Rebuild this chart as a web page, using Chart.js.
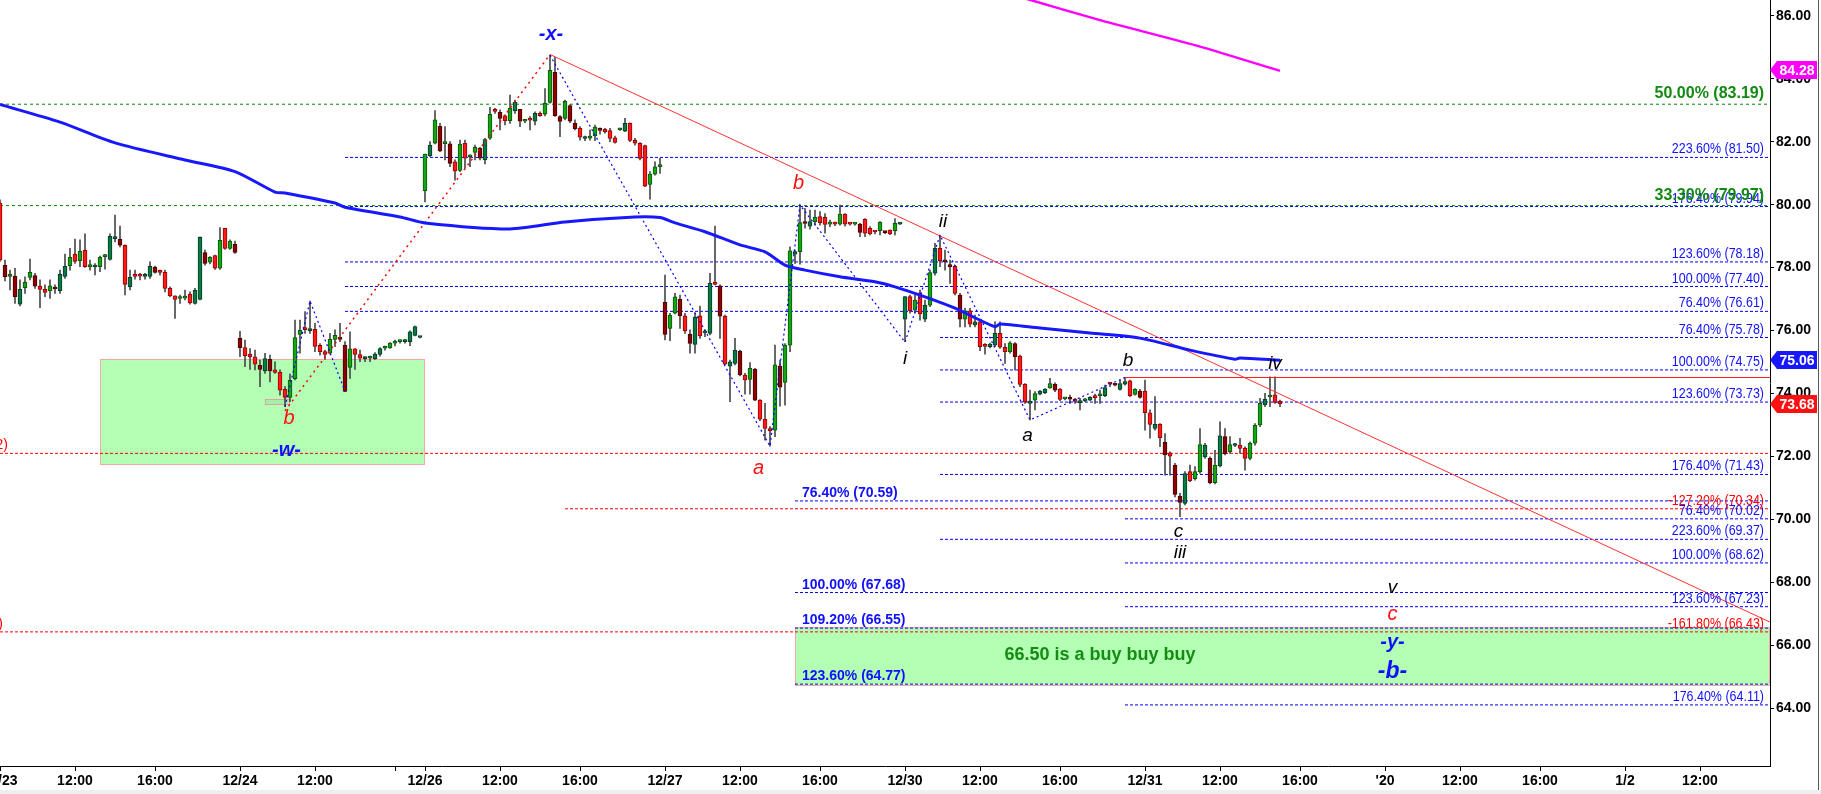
<!DOCTYPE html>
<html>
<head>
<meta charset="utf-8">
<script src="https://cdn.jsdelivr.net/npm/chart.js@4.4.1/dist/chart.umd.min.js"></script>
<style>
html, body { margin: 0; padding: 0; background: #fff; overflow: hidden; }
canvas { display: block; }
</style>
</head>
<body>
<canvas id="myChart" width="1821" height="794"></canvas>
<script>
// 15 minute bars, index 0 = 12/23 first bar
var opens = [
  // 12/23
  80.05, 78.07, 77.72, 77.73, 76.84, 77.36, 77.69, 77.75, 77.41, 77.31, 77.26, 77.38, 77.27, 77.72, 78.06, 78.42,
  78.22, 78.55, 78.03, 78.02, 78.03, 78.35, 78.26, 78.92, 78.90, 78.71, 77.39, 77.74, 77.75, 77.72, 77.72, 78.02,
  77.86, 77.85, 77.34, 77.10, 77.02, 77.03, 77.15, 76.86, 76.99, 78.48, 78.17, 78.38, 77.98, 79.25, 78.61, 78.74,
  // 12/24
  75.75, 75.46, 75.25, 75.17, 74.90, 74.72, 75.09, 74.75, 74.67, 74.13, 73.88, 74.47, 75.88, 76.05, 76.00, 76.04,
  75.53, 75.33, 75.28, 75.72, 75.77, 75.53, 74.83, 75.42, 75.24, 75.11, 75.12, 75.11, 75.24, 75.44, 75.45, 75.60,
  75.65, 75.65, 75.65, 75.85, 75.78,
  // 12/26
  80.44, 81.55, 81.95, 82.49, 81.94, 81.93, 81.36, 81.09, 81.95, 81.52, 81.66, 81.79, 81.42, 82.11, 82.98, 82.93,
  82.82, 82.67, 82.98, 83.03, 82.65, 82.75, 82.65, 82.90, 82.87, 83.25, 84.20, 82.80, 82.74, 83.15, 82.58, 82.42,
  82.10, 82.11, 82.18, 82.37, 82.39, 82.35, 82.12, 82.38, 82.33, 82.58, 82.04, 81.95, 81.88, 80.64, 80.97, 81.21,
  // 12/27
  76.90, 76.07, 76.55, 76.99, 76.47, 75.88, 75.56, 76.47, 75.93, 75.91, 77.54, 77.42, 76.46, 74.87, 74.96, 75.34,
  74.59, 74.45, 74.77, 73.79, 73.19, 72.89, 72.84, 74.87, 74.35, 75.54, 78.43, 78.51, 79.42, 79.32, 79.46, 79.62,
  79.60, 79.38, 79.39, 79.38, 79.70, 79.39, 79.38, 79.38, 79.53, 79.25, 79.14, 79.17, 79.12, 79.19, 79.17, 79.38,
  // 12/30
  76.36, 77.08, 76.65, 77.20, 76.36, 76.81, 77.82, 78.61, 78.19, 78.10, 78.04, 77.13, 76.36, 76.63, 76.18, 76.28,
  75.51, 75.49, 75.54, 75.91, 75.47, 75.33, 75.59, 75.19, 74.29, 73.69, 73.79, 73.98, 74.03, 74.18, 74.29, 74.14,
  73.83, 73.83, 73.82, 73.71, 73.77, 73.79, 73.93, 73.93, 73.93, 74.31, 74.28, 74.13, 74.30, 74.40, 73.97, 74.08,
  // 12/31
  74.08, 73.39, 72.89, 73.02, 72.45, 72.12, 71.72, 70.74, 70.51, 71.52, 71.30, 71.52, 71.99, 71.94, 71.17, 71.70,
  72.63, 72.15, 72.35, 72.36, 72.26, 71.94, 72.42, 73.00, 73.64, 73.89, 73.96, 73.75
];
var highs = [
  80.15, 78.24, 77.92, 77.98, 77.61, 77.71, 78.27, 77.82, 77.61, 77.45, 77.61, 77.45, 77.92, 78.43, 78.61, 78.91,
  78.88, 79.07, 78.24, 78.13, 78.37, 78.42, 79.07, 79.67, 79.32, 78.72, 77.92, 77.92, 77.82, 77.82, 78.18, 78.05,
  77.92, 77.92, 77.39, 77.10, 77.13, 77.29, 77.23, 77.34, 78.98, 78.56, 78.35, 78.40, 79.27, 79.25, 78.88, 78.84,
  75.98, 75.70, 75.43, 75.38, 75.06, 75.28, 75.22, 75.01, 74.75, 74.22, 74.62, 76.33, 76.33, 76.60, 76.94, 76.23,
  75.59, 75.38, 75.91, 76.02, 76.23, 75.65, 75.96, 75.43, 75.38, 75.17, 75.19, 75.30, 75.46, 75.51, 75.62, 75.70,
  75.70, 75.72, 75.99, 76.14, 75.81,
  81.61, 82.00, 82.99, 82.58, 82.48, 82.00, 81.42, 82.05, 82.05, 81.58, 81.89, 81.82, 82.11, 83.09, 83.06, 83.01,
  82.85, 83.48, 83.32, 83.03, 82.70, 82.80, 82.95, 82.95, 83.69, 84.75, 84.68, 82.83, 83.32, 83.18, 82.69, 82.48,
  82.18, 82.37, 82.53, 82.44, 82.42, 82.42, 82.18, 82.42, 82.74, 82.60, 82.11, 81.97, 81.89, 81.05, 81.36, 81.47,
  77.76, 76.55, 77.18, 77.13, 76.55, 76.02, 76.55, 76.78, 76.02, 77.82, 79.32, 77.45, 76.49, 75.06, 75.75, 75.38,
  74.64, 74.98, 74.80, 73.81, 73.69, 72.95, 75.54, 75.06, 75.59, 78.66, 78.56, 79.99, 79.88, 79.83, 79.83, 79.78,
  79.72, 79.51, 79.45, 79.99, 79.72, 79.42, 79.42, 79.41, 79.56, 79.30, 79.17, 79.46, 79.15, 79.20, 79.56, 79.41,
  77.08, 77.13, 77.18, 77.29, 76.97, 77.92, 78.77, 79.03, 78.56, 78.24, 78.08, 77.18, 76.71, 76.71, 76.49, 76.33,
  75.59, 75.60, 76.28, 76.28, 75.59, 75.65, 75.62, 75.22, 74.32, 74.11, 74.06, 74.10, 74.16, 74.48, 74.34, 74.16,
  73.88, 73.95, 73.85, 73.85, 73.85, 73.90, 73.98, 74.11, 74.27, 74.34, 74.30, 74.43, 74.51, 74.43, 74.16, 74.13,
  74.43, 73.48, 73.90, 73.05, 72.73, 72.15, 71.78, 70.83, 71.52, 71.73, 71.68, 72.89, 72.42, 71.99, 72.20, 73.10,
  72.89, 72.63, 72.42, 72.58, 72.31, 72.47, 73.05, 73.85, 74.01, 74.53, 74.53, 73.79
];
var lows = [
  78.20, 77.58, 77.29, 76.86, 76.78, 77.18, 77.61, 77.34, 76.73, 77.08, 77.02, 77.18, 77.18, 77.66, 77.92, 78.13,
  78.03, 78.01, 77.92, 77.77, 77.87, 77.95, 78.24, 78.82, 78.66, 77.13, 77.29, 77.63, 77.61, 77.63, 77.66, 77.82,
  77.76, 77.23, 77.08, 76.39, 76.86, 76.97, 76.84, 76.84, 76.97, 78.08, 78.12, 77.94, 77.94, 78.58, 78.58, 78.45,
  75.17, 74.85, 74.77, 74.75, 74.22, 74.64, 74.37, 74.64, 73.95, 73.58, 73.74, 74.43, 75.28, 75.91, 75.91, 75.33,
  75.22, 75.08, 75.25, 75.49, 75.65, 74.06, 74.48, 74.77, 75.01, 75.01, 75.01, 75.08, 75.19, 75.38, 75.43, 75.51,
  75.60, 75.60, 75.52, 75.83, 75.77,
  80.09, 81.52, 81.93, 81.68, 81.42, 81.21, 80.78, 81.05, 81.15, 81.21, 81.42, 81.42, 81.29, 82.07, 82.90, 82.37,
  82.53, 82.58, 82.90, 82.48, 82.60, 82.37, 82.53, 82.80, 82.82, 83.22, 82.80, 82.16, 82.69, 82.60, 82.37, 82.05,
  82.03, 82.05, 82.03, 82.24, 82.27, 82.00, 81.95, 82.36, 82.32, 82.00, 81.89, 81.42, 80.57, 80.17, 80.94, 80.99,
  75.70, 75.68, 76.53, 76.07, 75.91, 75.28, 75.28, 75.75, 75.81, 75.86, 77.45, 75.75, 74.91, 73.74, 74.91, 74.56,
  73.98, 73.98, 73.77, 73.14, 72.52, 72.33, 72.63, 73.60, 73.63, 75.33, 78.13, 78.11, 79.25, 79.22, 79.35, 79.35,
  79.09, 79.30, 79.33, 79.35, 79.32, 79.35, 79.35, 78.98, 78.98, 79.04, 79.07, 79.04, 79.08, 79.05, 79.04, 79.37,
  75.65, 76.55, 76.55, 76.33, 76.28, 76.76, 77.76, 78.03, 77.92, 77.50, 77.13, 76.12, 76.12, 76.12, 76.12, 75.36,
  75.25, 75.45, 75.49, 75.43, 74.96, 75.28, 74.75, 74.22, 73.69, 73.16, 73.48, 73.96, 74.00, 74.16, 74.06, 73.77,
  73.80, 73.69, 73.69, 73.48, 73.74, 73.77, 73.69, 73.69, 73.90, 74.22, 74.24, 74.11, 74.27, 73.90, 73.95, 73.85,
  72.84, 72.58, 72.84, 72.31, 71.41, 71.41, 70.72, 70.09, 70.46, 71.20, 71.25, 71.46, 71.94, 71.13, 71.13, 71.67,
  72.05, 72.10, 72.31, 72.10, 71.57, 71.89, 72.36, 72.95, 73.58, 73.58, 73.69, 73.58
];
var closes = [
  78.24, 77.71, 77.74, 77.08, 77.31, 77.53, 77.85, 77.41, 77.31, 77.21, 77.42, 77.32, 77.79, 78.04, 78.33, 78.20,
  78.52, 78.03, 78.04, 78.03, 78.33, 78.36, 78.99, 78.93, 78.71, 77.47, 77.69, 77.72, 77.73, 77.73, 78.04, 77.85,
  77.85, 77.34, 77.10, 76.99, 77.03, 77.04, 76.88, 77.28, 78.96, 78.13, 78.33, 77.98, 78.87, 78.61, 78.84, 78.48,
  75.46, 75.20, 75.17, 74.93, 74.77, 75.11, 74.72, 74.67, 74.11, 73.88, 74.42, 75.78, 76.01, 76.03, 76.02, 75.50,
  75.33, 75.24, 75.72, 75.85, 75.72, 74.07, 75.42, 75.24, 75.12, 75.12, 75.13, 75.25, 75.43, 75.45, 75.60, 75.61,
  75.66, 75.66, 75.96, 76.13, 75.79,
  81.61, 81.89, 82.69, 81.71, 81.95, 81.31, 81.06, 81.92, 81.48, 81.53, 81.82, 81.48, 82.07, 82.87, 82.96, 82.74,
  82.67, 83.06, 83.25, 82.65, 82.66, 82.68, 82.90, 82.83, 83.22, 84.27, 82.83, 82.64, 83.28, 82.65, 82.41, 82.14,
  82.11, 82.18, 82.46, 82.36, 82.32, 82.10, 81.98, 82.39, 82.58, 82.04, 81.95, 81.47, 80.59, 80.97, 81.20, 81.22,
  75.88, 76.49, 77.07, 76.47, 75.99, 75.59, 76.43, 75.83, 75.94, 77.50, 77.47, 76.46, 74.93, 75.01, 75.37, 74.59,
  74.43, 74.80, 73.79, 73.19, 72.89, 72.81, 74.91, 74.20, 75.54, 78.53, 78.51, 79.43, 79.40, 79.46, 79.60, 79.43,
  79.37, 79.39, 79.38, 79.70, 79.38, 79.38, 79.39, 79.12, 79.09, 79.07, 79.13, 79.44, 79.11, 79.07, 79.41, 79.39,
  77.08, 76.63, 76.97, 76.53, 76.81, 77.84, 78.61, 78.22, 78.18, 78.03, 77.18, 76.36, 76.63, 76.20, 76.28, 75.49,
  75.50, 75.57, 75.91, 75.47, 75.33, 75.61, 75.17, 74.29, 73.73, 73.76, 74.00, 74.08, 74.14, 74.32, 74.11, 73.81,
  73.84, 73.82, 73.75, 73.72, 73.82, 73.88, 73.87, 73.94, 74.19, 74.30, 74.27, 74.32, 74.38, 73.93, 74.13, 73.88,
  73.39, 73.02, 73.02, 72.60, 72.05, 72.01, 70.80, 70.54, 71.46, 71.23, 71.52, 72.38, 72.36, 71.17, 71.73, 72.66,
  72.08, 72.38, 72.36, 72.26, 71.94, 72.42, 72.99, 73.69, 73.82, 73.90, 73.72, 73.68
];

// moving average (blue) and the magenta average
var maBars   = [0, 12, 23, 37, 47, 55, 57, 67, 69, 80, 85, 102, 113, 127, 132, 135, 141, 148, 153, 157, 161, 168, 175, 179, 185, 191, 199, 200, 208, 218, 228, 238, 247, 248, 256];
var maValues = [83.18, 82.62, 81.96, 81.42, 81.05, 80.40, 80.37, 80.05, 79.92, 79.61, 79.42, 79.23, 79.45, 79.61, 79.59, 79.42, 79.14, 78.72, 78.50, 78.08, 77.92, 77.71, 77.55, 77.39, 77.07, 76.71, 76.12, 76.21, 76.08, 75.92, 75.76, 75.38, 75.09, 75.13, 75.06];
var magBars   = [205, 220, 240, 256];
var magValues = [86.55, 85.86, 85.02, 84.25];

// x axis
var tickBars   = [0, 15, 31, 48, 63, 79, 85, 100, 116, 133, 148, 164, 181, 196, 212, 229, 244, 260, 277, 292, 308, 325, 340];
var tickLabels = ['12/23', '12:00', '16:00', '12/24', '12:00', '', '12/26', '12:00', '16:00', '12/27', '12:00', '16:00',
                  '12/30', '12:00', '16:00', '12/31', '12:00', '16:00', "'20", '12:00', '16:00', '1/2', '12:00'];
var priceTicks = [64, 66, 68, 70, 72, 74, 76, 78, 80, 82, 84, 86];

// fibonacci levels, grouped by the bar they start from
var fibXRatios  = ['223.60%', '176.40%', '123.60%', '100.00%', '76.40%'];
var fibXPrices  = [81.50, 79.94, 78.18, 77.40, 76.61];
var fibXStart   = 69;
var fibIIRatios = ['76.40%', '100.00%', '123.60%', '176.40%', '223.60%'];
var fibIIPrices = [75.78, 74.75, 73.73, 71.43, 69.37];
var fibIIStart  = 188;
var fibBRatios  = ['76.40%', '100.00%', '123.60%', '176.40%'];
var fibBPrices  = [70.02, 68.62, 67.23, 64.11];
var fibBStart   = 225;
var fibARatios  = ['76.40%', '100.00%', '109.20%', '123.60%'];
var fibAPrices  = [70.59, 67.68, 66.55, 64.77];
var fibAStart   = 159;
var redRatios   = ['-127.20%', '-161.80%'];
var redPrices   = [70.34, 66.43];
var redStarts   = [113, 0];
var redEdgePrices = [72.10, 66.43];
var redEdgeTexts  = ['(72.12)', '(66.43)'];
var redEdgeBars   = [1.6, 0.6];
var greenRatios = ['50.00%', '33.30%'];
var greenPrices = [83.19, 79.97];

// trend lines
var trendBars   = [110, 354];
var trendPrices = [84.77, 66.74];
var bLineBars   = [224.7, 354];
var bLinePrice  = 74.51;
var xLegBars    = [57, 110];
var xLegPrices  = [73.45, 84.77];
var wPathBars   = [57, 62, 69];
var wPathPrices = [73.58, 76.94, 74.07];
var yPathBars   = [110, 154, 160, 181, 188, 206, 225];
var yPathPrices = [84.75, 72.33, 79.99, 75.63, 79.03, 73.16, 74.51];

// zones
var wZoneBars   = [20, 85];
var wZonePrices = [75.09, 71.74];
var lowBoxBars  = [53, 58];
var lowBoxPrices = [73.82, 73.66];
var buyZoneStart = 159;
var buyZonePrices = [66.58, 64.75];
var buyText = '66.50 is a buy buy buy';
var buyTextBar = 220, buyTextPrice = 65.69;

// wave labels
var blackText  = ['i', 'ii', 'a', 'b', 'iv', 'c', 'iii', 'v'];
var blackBars  = [181, 188.6, 205.5, 225.6, 255, 235.7, 236, 278.5];
var blackPrice = [75.12, 79.46, 72.65, 75.04, 74.96, 69.61, 68.94, 67.83];
var redText    = ['b', 'a', 'b', 'c'];
var redBars    = [57.8, 151.7, 159.7, 278.5];
var redPrice   = [73.21, 71.62, 80.68, 66.98];
var blueText   = ['-x-', '-w-', '-y-', '-b-'];
var blueBars   = [110.2, 57.3, 278.5, 278.5];
var bluePrice  = [85.40, 72.20, 66.10, 65.17];

// price tags on the axis
var tagValues = [84.28, 75.06, 73.68];
var tagColors = ['#ff00ff', '#1818ff', '#ff1010'];

var X_MAX = 354;
var Y_MIN = 62.17, Y_MAX = 86.5;

Chart.defaults.font.family = "'Liberation Sans', Arial, sans-serif";

// candle colours
var bodyFill = [], bodyEdge = [], wickData = [], bodyData = [];
for (var i = 0; i < opens.length; i++) {
  var up = closes[i] >= opens[i];
  var prev = i > 0 ? closes[i - 1] : opens[i];
  var strong = opens[i] >= prev;
  if (up) {
    bodyFill.push(strong ? '#12a612' : '#097a45');
    bodyEdge.push(strong ? '#0a560a' : '#053d22');
  } else {
    bodyFill.push(strong ? '#ff1a1a' : '#8e0000');
    bodyEdge.push(strong ? '#9a0000' : '#4a0000');
  }
  wickData.push({ x: i, y: [lows[i], highs[i]] });
  bodyData.push({ x: i, y: [opens[i], closes[i]] });
}

function pts(xs, ys) {
  return xs.map(function (x, k) { return { x: x, y: Array.isArray(ys) ? ys[k] : ys }; });
}
function levelLine(start, price, color, dash) {
  return {
    type: 'line', data: [{ x: start, y: price }, { x: X_MAX, y: price }],
    borderColor: color, borderWidth: 1, borderDash: dash, pointRadius: 0, order: 6
  };
}

var datasets = [];
greenPrices.forEach(function (p) { datasets.push(levelLine(0, p, '#008a00', [3, 3])); });
redEdgePrices.forEach(function (p) { datasets.push(levelLine(0, p, '#ff0000', [3, 2])); });
redPrices.forEach(function (p, k) { if (redStarts[k] > 0) datasets.push(levelLine(redStarts[k], p, '#ff0000', [3, 2])); });
fibXPrices.forEach(function (p) { datasets.push(levelLine(fibXStart, p, '#0000ff', [3, 2])); });
fibIIPrices.forEach(function (p) { datasets.push(levelLine(fibIIStart, p, '#0000ff', [3, 2])); });
fibBPrices.forEach(function (p) { datasets.push(levelLine(fibBStart, p, '#0000ff', [3, 2])); });
fibAPrices.forEach(function (p) { datasets.push(levelLine(fibAStart, p, '#0000ff', [3, 2])); });

datasets.push({ type: 'bar', data: wickData, backgroundColor: '#4a4a4a', borderWidth: 0,
  barThickness: 1, minBarLength: 1, grouped: false, order: 4 });
datasets.push({ type: 'bar', data: bodyData, backgroundColor: bodyFill, borderColor: bodyEdge,
  borderWidth: 1, borderSkipped: false, barThickness: 4, minBarLength: 2, grouped: false, order: 3 });

datasets.push({ type: 'line', data: pts(wPathBars, wPathPrices), borderColor: '#0000ff', borderWidth: 1.2,
  borderDash: [2, 3], pointRadius: 0, order: 2 });
datasets.push({ type: 'line', data: pts(yPathBars, yPathPrices), borderColor: '#0000ff', borderWidth: 1.2,
  borderDash: [2, 3], pointRadius: 0, order: 2 });
datasets.push({ type: 'line', data: pts(xLegBars, xLegPrices), borderColor: '#ff0000', borderWidth: 1.5,
  borderDash: [2, 4], pointRadius: 0, order: 2 });
datasets.push({ type: 'line', data: pts(trendBars, trendPrices), borderColor: '#ff3030', borderWidth: 1,
  pointRadius: 0, order: 2 });
datasets.push({ type: 'line', data: pts(bLineBars, bLinePrice), borderColor: '#ff2020', borderWidth: 1,
  pointRadius: 0, order: 2 });
datasets.push({ type: 'line', data: pts(maBars, maValues), borderColor: '#1818ff', borderWidth: 3,
  tension: 0.25, pointRadius: 0, order: 1 });
datasets.push({ type: 'line', data: pts(magBars, magValues), borderColor: '#ff00ff', borderWidth: 2.5,
  tension: 0.2, pointRadius: 0, order: 1 });

function fibLabel(r, p) { return r + ' (' + p.toFixed(2) + ')'; }

var drawings = {
  id: 'drawings',
  beforeDatasetsDraw: function (chart) {
    var ctx = chart.ctx, xs = chart.scales.x, ys = chart.scales.y, area = chart.chartArea;
    ctx.save();
    function zone(x0, x1, y0, y1, fill, edge) {
      var l = xs.getPixelForValue(x0), r = x1 === null ? area.right : xs.getPixelForValue(x1);
      var t = ys.getPixelForValue(y0), b = ys.getPixelForValue(y1);
      ctx.fillStyle = fill;
      ctx.fillRect(l, t, r - l, b - t);
      ctx.strokeStyle = edge;
      ctx.lineWidth = 1;
      ctx.strokeRect(Math.round(l) + 0.5, Math.round(t) + 0.5, Math.round(r - l) - 1, Math.round(b - t));
    }
    zone(wZoneBars[0], wZoneBars[1], wZonePrices[0], wZonePrices[1], '#b3ffb3', '#f3a8a8');
    zone(lowBoxBars[0], lowBoxBars[1], lowBoxPrices[0], lowBoxPrices[1], '#a8eea8', '#e0a0a0');
    zone(buyZoneStart, null, buyZonePrices[0], buyZonePrices[1], '#b3ffb3', '#f3a8a8');
    ctx.restore();
  },
  afterDatasetsDraw: function (chart) {
    var ctx = chart.ctx, xs = chart.scales.x, ys = chart.scales.y, area = chart.chartArea;
    ctx.save();
    var rx = area.right - 6;
    // narrow right-hand labels: squeeze the text sideways
    function right(txt, p, font, color, lift, squeeze) {
      ctx.save();
      ctx.font = font; ctx.fillStyle = color; ctx.textAlign = 'right'; ctx.textBaseline = 'alphabetic';
      ctx.translate(rx, ys.getPixelForValue(p) - lift);
      ctx.scale(squeeze, 1);
      ctx.fillText(txt, 0, 0);
      ctx.restore();
    }
    var thin = '14.5px "Liberation Sans", Arial';
    fibXPrices.forEach(function (p, k) { right(fibLabel(fibXRatios[k], p), p, thin, '#1010ff', 4, 0.86); });
    fibIIPrices.forEach(function (p, k) { right(fibLabel(fibIIRatios[k], p), p, thin, '#1010ff', 4, 0.86); });
    fibBPrices.forEach(function (p, k) { right(fibLabel(fibBRatios[k], p), p, thin, '#1010ff', 4, 0.86); });
    redPrices.forEach(function (p, k) { right(fibLabel(redRatios[k], p), p, thin, '#ff0000', 4, 0.86); });
    greenPrices.forEach(function (p, k) { right(fibLabel(greenRatios[k], p), p, 'bold 16px "Liberation Sans", Arial', '#108a10', 6, 1); });

    ctx.textAlign = 'left';
    ctx.textBaseline = 'alphabetic';
    ctx.font = 'bold 14px "Liberation Sans", Arial';
    ctx.fillStyle = '#1010ff';
    fibAPrices.forEach(function (p, k) {
      ctx.fillText(fibLabel(fibARatios[k], p), xs.getPixelForValue(fibAStart) + 7, ys.getPixelForValue(p) - 4);
    });

    ctx.textAlign = 'right';
    ctx.font = '14px "Liberation Sans", Arial';
    ctx.fillStyle = '#ff0000';
    redEdgePrices.forEach(function (p, k) {
      ctx.fillText(redEdgeTexts[k], xs.getPixelForValue(redEdgeBars[k]), ys.getPixelForValue(p) - 4);
    });

    ctx.textAlign = 'center';
    ctx.textBaseline = 'middle';
    ctx.font = 'bold 18px "Liberation Sans", Arial';
    ctx.fillStyle = '#148c14';
    ctx.fillText(buyText, xs.getPixelForValue(buyTextBar), ys.getPixelForValue(buyTextPrice));

    ctx.font = 'italic 19px "Liberation Sans", Arial';
    ctx.fillStyle = '#000';
    blackText.forEach(function (t, k) { ctx.fillText(t, xs.getPixelForValue(blackBars[k]), ys.getPixelForValue(blackPrice[k])); });
    ctx.font = 'italic 20px "Liberation Sans", Arial';
    ctx.fillStyle = '#ff1010';
    redText.forEach(function (t, k) { ctx.fillText(t, xs.getPixelForValue(redBars[k]), ys.getPixelForValue(redPrice[k])); });
    ctx.fillStyle = '#1010ff';
    blueText.forEach(function (t, k) {
      ctx.font = (t === '-b-' ? 'bold italic 23px' : 'bold italic 20px') + ' "Liberation Sans", Arial';
      ctx.fillText(t, xs.getPixelForValue(blueBars[k]), ys.getPixelForValue(bluePrice[k]));
    });
    ctx.restore();
  },
  afterDraw: function (chart) {
    var ctx = chart.ctx, ys = chart.scales.y, area = chart.chartArea;
    ctx.save();
    tagValues.forEach(function (v, k) {
      var yc = Math.round(ys.getPixelForValue(v));
      var x0 = area.right, x1 = area.right + 7, x2 = chart.width - 4;
      ctx.beginPath();
      ctx.moveTo(x0, yc);
      ctx.lineTo(x1, yc - 9);
      ctx.lineTo(x2, yc - 9);
      ctx.lineTo(x2, yc + 9);
      ctx.lineTo(x1, yc + 9);
      ctx.closePath();
      ctx.fillStyle = tagColors[k];
      ctx.fill();
      ctx.fillStyle = '#fff';
      ctx.font = 'bold 14px "Liberation Sans", Arial';
      ctx.textAlign = 'center';
      ctx.textBaseline = 'middle';
      ctx.fillText(v.toFixed(2), (x1 + x2) / 2, yc + 1);
    });
    ctx.strokeStyle = '#555';
    ctx.lineWidth = 1;
    ctx.beginPath();
    ctx.moveTo(chart.width - 2.5, 0);
    ctx.lineTo(chart.width - 2.5, chart.height - 4);
    ctx.stroke();
    ctx.fillStyle = '#efefef';
    ctx.fillRect(0, chart.height - 4, chart.width, 4);
    ctx.restore();
  }
};

var element = document.getElementById('myChart').getContext('2d');
var chart = new Chart(element, {
  type: 'bar',
  data: { datasets: datasets },
  options: {
    responsive: false,
    animation: false,
    devicePixelRatio: 1,
    events: [],
    layout: { padding: 0 },
    plugins: { legend: { display: false }, tooltip: { enabled: false } },
    scales: {
      x: {
        type: 'linear', min: 0, max: X_MAX, offset: false,
        afterBuildTicks: function (s) { s.ticks = tickBars.map(function (v) { return { value: v }; }); },
        afterFit: function (s) { s.height = 28; s.paddingLeft = 0; s.paddingRight = 0; },
        ticks: {
          autoSkip: false, maxRotation: 0, minRotation: 0, padding: 2, color: '#000',
          font: { size: 14, weight: 'bold' },
          callback: function (v) { var k = tickBars.indexOf(v); return k < 0 ? '' : tickLabels[k]; }
        },
        grid: { drawOnChartArea: false, drawTicks: true, tickLength: 5, color: '#000', offset: false },
        border: { display: true, color: '#000', width: 1 }
      },
      y: {
        type: 'linear', position: 'right', min: Y_MIN, max: Y_MAX,
        afterBuildTicks: function (s) { s.ticks = priceTicks.map(function (v) { return { value: v }; }); },
        afterFit: function (s) { s.width = 51; s.paddingTop = 0; s.paddingBottom = 0; },
        ticks: {
          padding: 2, color: '#000', font: { size: 14, weight: 'bold' },
          callback: function (v) { return Number(v).toFixed(2); }
        },
        grid: { drawOnChartArea: false, drawTicks: true, tickLength: 4, color: '#000' },
        border: { display: true, color: '#000', width: 1 }
      }
    }
  },
  plugins: [drawings]
});
</script>
</body>
</html>
